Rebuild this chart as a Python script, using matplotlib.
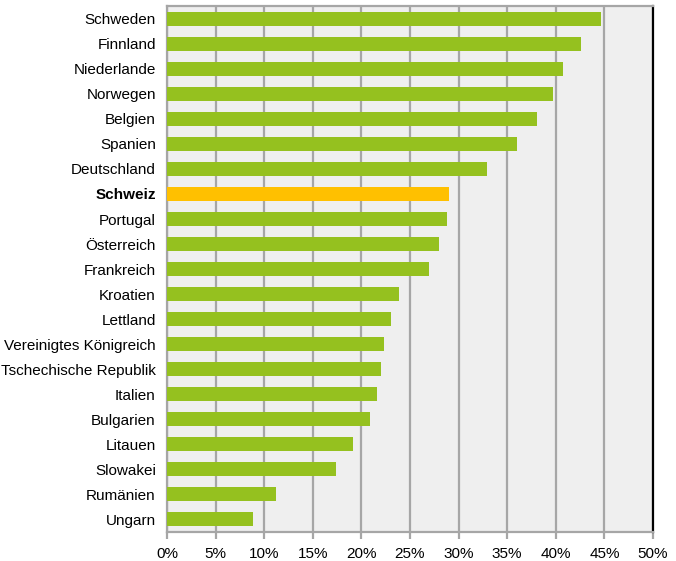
import matplotlib
matplotlib.use("Agg")
import matplotlib.pyplot as plt
from matplotlib import font_manager

countries = [
    "Schweden", "Finnland", "Niederlande", "Norwegen", "Belgien", "Spanien",
    "Deutschland", "Schweiz", "Portugal", "Österreich", "Frankreich", "Kroatien",
    "Lettland", "Vereinigtes Königreich", "Tschechische Republik", "Italien",
    "Bulgarien", "Litauen", "Slowakei", "Rumänien", "Ungarn",
]
shares = [
    44.7, 42.6, 40.7, 39.7, 38.1, 36.0,
    32.9, 29.0, 28.8, 28.0, 27.0, 23.9,
    23.0, 22.3, 22.0, 21.6,
    20.9, 19.1, 17.4, 11.2, 8.8,
]
highlight = "Schweiz"
x_ticks = [0, 5, 10, 15, 20, 25, 30, 35, 40, 45, 50]

installed = {f.name for f in font_manager.fontManager.ttflist}
family = "Liberation Sans Narrow" if "Liberation Sans Narrow" in installed else "Liberation Sans"
plt.rcParams["font.family"] = [family, "DejaVu Sans"]

GREEN = "#95c11f"
ORANGE = "#ffc000"
GRID = "#a6a6a6"

fig = plt.figure(figsize=(6.76, 5.61), dpi=100)
ax = fig.add_axes([0.247, 0.0517, 0.719, 0.9373])
ax.set_facecolor("#efefef")

ypos = list(range(len(countries)))
colors = [ORANGE if c == highlight else GREEN for c in countries]
ax.barh(ypos, shares, height=0.56, color=colors, zorder=3)

ax.set_ylim(len(countries) - 0.5, -0.5)
ax.set_xlim(0, 50)
ax.set_xticks(x_ticks)
ax.set_xticklabels([f"{t}%" for t in x_ticks], fontsize=11)
ax.set_yticks(ypos)
ax.set_yticklabels(countries, fontsize=11)
for lbl in ax.get_yticklabels():
    if lbl.get_text() == highlight:
        lbl.set_fontweight("bold")

ax.grid(axis="x", color=GRID, linewidth=1.6, zorder=1)
ax.tick_params(axis="x", length=5, width=1.6, color=GRID, pad=6)
ax.tick_params(axis="y", length=0, pad=8)

for side in ("left", "bottom", "top"):
    ax.spines[side].set_color(GRID)
    ax.spines[side].set_linewidth(1.6)
ax.spines["right"].set_color("black")
ax.spines["right"].set_linewidth(1.6)

fig.savefig("out.png", dpi=100)
